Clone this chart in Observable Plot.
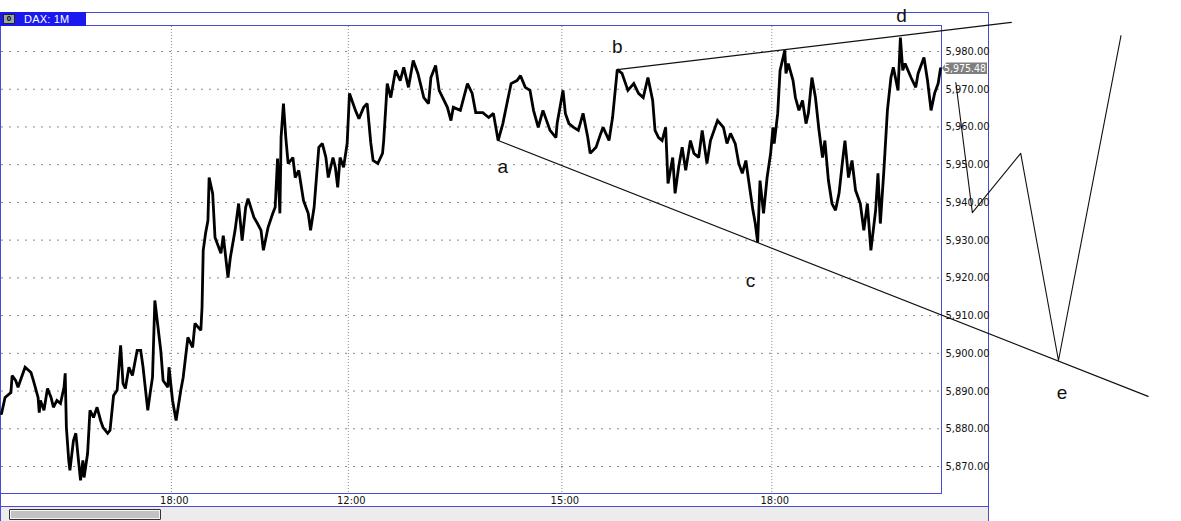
<!DOCTYPE html>
<html>
<head>
<meta charset="utf-8">
<script src="https://cdn.jsdelivr.net/npm/d3@7"></script>
<script src="https://cdn.jsdelivr.net/npm/@observablehq/plot@0.6"></script>
<style>
  html, body { margin: 0; padding: 0; background: #fff; }
  #chart { position: relative; width: 1181px; height: 521px; overflow: hidden; font-family: "Liberation Sans", Arial, sans-serif; }
  .box { position: absolute; box-sizing: border-box; }
  #outer { left: 0; top: 12px; width: 989px; height: 509px; border: 1px solid #4b4bd2; border-bottom: none; }
  #plotbox { left: 0; top: 25px; width: 942px; height: 469px; border: 1px solid #4b4bd2; }
  #scroll { left: 0; top: 506px; width: 989px; height: 15px; background: #ececec; border: 1px solid #4b4bd2; border-bottom: none; }
  #thumb { left: 9px; top: 509px; width: 152px; height: 11px; border: 1px solid #333; background: #c2c2c2; box-shadow: inset 0 0 0 1px #f4f4f4; border-radius: 1px; }
  #header { left: 0; top: 12px; width: 86px; height: 14px; background: #1a1af0; color: #fff; font-size: 11px; line-height: 14px; }
  #header .btn { position: absolute; left: 3px; top: 2px; width: 12px; height: 10px; box-sizing: border-box; background: #9aa6ac; border: 1px solid #222; color: #000; font-weight: bold; font-size: 8px; line-height: 8px; text-align: center; }
  #header .name { position: absolute; left: 24px; top: 0; letter-spacing: 0.2px; }
  #chart svg { position: absolute; left: 0; top: 0; }
</style>
</head>
<body>
<div id="chart">
  <div class="box" id="outer"></div>
  <div class="box" id="plotbox"></div>
  <div class="box" id="scroll"></div>
  <div class="box" id="thumb"></div>
  <div class="box" id="header"><div class="btn">0</div><div class="name">DAX: 1M</div></div>
</div>
<script>
// One-minute DAX closes, sampled along the session (bar index from the left edge)
const barIndex = [
  0, 3, 8, 9, 12, 14, 20, 25, 27, 31, 32, 33, 36, 39, 42, 44, 47, 50, 53, 54,
  55, 57, 58, 61, 63, 65, 67, 69, 70, 73, 75, 78, 81, 84, 86, 90, 92, 95, 98, 101,
  103, 105, 108, 111, 115, 118, 120, 124, 126, 128, 130, 132, 135, 137, 141, 142, 145, 148, 152, 154,
  158, 162, 164, 169, 170, 171, 173, 175, 176, 179, 181, 186, 188, 192, 194, 198, 201, 204, 207, 209,
  214, 217, 220, 222, 226, 230, 232, 234, 236, 237, 239, 241, 243, 247, 249, 252, 256, 260, 262, 265,
  269, 272, 275, 277, 281, 283, 285, 287, 290, 293, 295, 298, 300, 303, 307, 310, 313, 315, 319, 323,
  324, 327, 330, 334, 338, 341, 345, 349, 353, 358, 362, 364, 368, 371, 374, 378, 381, 383, 389, 395,
  399, 402, 408, 413, 417, 421, 425, 429, 432, 437, 440, 444, 448, 451, 455, 459, 465, 470, 471, 476,
  478, 481, 485, 489, 493, 497, 499, 504, 508, 510, 515, 518, 522, 526, 531, 536, 540, 544, 548, 552,
  554, 557, 560, 563, 565, 569, 571, 574, 577, 580, 584, 587, 591, 594, 598, 601, 607, 612, 615, 618,
  622, 625, 628, 631, 633, 637, 639, 641, 643, 646, 649, 652, 654, 655, 658, 660, 664, 665, 667, 671,
  673, 676, 679, 682, 684, 687, 690, 693, 696, 698, 701, 704, 707, 710, 713, 715, 718, 721, 724, 728,
  731, 734, 737, 741, 743, 745, 748, 751, 754, 756, 760, 762, 764, 766, 771, 775, 777, 782, 785, 788,
  791, 794, 796
];
const closePrice = [
  5884.0, 5888.3, 5889.6, 5894.1, 5892.8, 5891.0, 5896.3, 5894.9, 5892.8, 5888.3, 5884.3, 5887.5, 5884.9, 5890.7, 5888.3, 5885.7, 5887.5, 5886.7, 5891.0, 5894.7,
  5880.4, 5871.6, 5869.0, 5876.9, 5878.8, 5872.4, 5866.3, 5871.6, 5867.1, 5873.5, 5884.9, 5883.0, 5885.7, 5882.2, 5880.4, 5878.8, 5879.6, 5888.8, 5890.2, 5902.1,
  5892.0, 5890.7, 5896.3, 5894.1, 5900.8, 5900.8, 5896.3, 5884.9, 5889.4, 5893.6, 5914.0, 5908.7, 5900.8, 5892.8, 5891.0, 5896.3, 5887.5, 5882.2, 5890.2, 5893.6,
  5904.2, 5901.6, 5907.9, 5906.1, 5912.2, 5927.3, 5931.8, 5935.2, 5946.6, 5942.4, 5930.7, 5926.5, 5931.2, 5920.1, 5925.4, 5932.6, 5939.7, 5929.9, 5938.7, 5941.0,
  5936.0, 5934.4, 5932.6, 5927.3, 5933.4, 5937.1, 5938.7, 5951.6, 5937.1, 5957.2, 5966.2, 5957.2, 5950.3, 5951.9, 5946.6, 5948.5, 5940.5, 5937.1, 5932.6, 5938.7,
  5954.6, 5955.6, 5951.9, 5946.6, 5951.9, 5949.3, 5944.0, 5951.9, 5949.3, 5955.6, 5968.9, 5966.2, 5964.4, 5962.2, 5965.2, 5966.2, 5955.9, 5951.1, 5950.3, 5953.0,
  5956.4, 5971.5, 5967.8, 5975.0, 5972.3, 5975.8, 5970.5, 5977.6, 5974.2, 5967.8, 5966.2, 5973.1, 5976.3, 5969.7, 5967.8, 5965.2, 5961.7, 5965.2, 5964.4, 5971.5,
  5968.9, 5963.8, 5963.8, 5962.5, 5963.6, 5956.4, 5960.9, 5967.0, 5971.5, 5972.3, 5973.6, 5970.5, 5969.7, 5964.4, 5959.9, 5964.4, 5959.1, 5957.2, 5960.9, 5969.7,
  5963.6, 5960.9, 5959.9, 5959.1, 5963.6, 5957.2, 5953.0, 5954.6, 5958.3, 5959.9, 5956.4, 5962.5, 5975.2, 5974.2, 5969.7, 5971.5, 5968.9, 5967.8, 5973.1, 5967.0,
  5959.1, 5957.2, 5956.4, 5959.9, 5945.0, 5951.9, 5942.4, 5949.3, 5954.6, 5948.5, 5956.4, 5953.0, 5951.9, 5959.1, 5950.3, 5956.4, 5961.7, 5959.9, 5955.6, 5958.3,
  5955.6, 5950.3, 5947.7, 5951.1, 5946.6, 5937.9, 5934.4, 5929.4, 5945.8, 5937.1, 5946.6, 5953.0, 5959.9, 5955.6, 5963.6, 5975.0, 5980.3, 5974.2, 5976.8, 5972.3,
  5967.8, 5964.4, 5967.0, 5960.9, 5963.6, 5973.1, 5967.8, 5959.1, 5951.9, 5956.4, 5945.8, 5939.7, 5937.9, 5942.4, 5951.1, 5956.4, 5946.6, 5951.1, 5943.2, 5939.7,
  5932.6, 5939.7, 5927.3, 5937.9, 5947.7, 5934.4, 5948.5, 5964.4, 5973.1, 5975.8, 5969.7, 5983.7, 5975.0, 5976.8, 5973.1, 5970.5, 5974.2, 5978.4, 5972.3, 5964.4,
  5968.9, 5971.5, 5975.48
];

// Axis ticks
const priceTicks = [5870, 5880, 5890, 5900, 5910, 5920, 5930, 5940, 5950, 5960, 5970, 5980];
const timeTickIndex = [144, 294, 475, 653];
const timeTickLabel = ["18:00", "12:00", "15:00", "18:00"];

// Triangle boundaries: lower line from a through c, upper line from b through the 18:00 high
const lowerLineIndex = [421, 972];
const lowerLinePrice = [5956.4, 5888.6];
const upperLineIndex = [522, 856];
const upperLinePrice = [5975.2, 5987.7];

// Projected d-e swing and breakout
const pathIndex = [809, 823, 864, 896, 949];
const pathPrice = [5971.8, 5937.3, 5953.0, 5898.1, 5984.2];

// Wave labels
const waveLabel = ["a", "b", "c", "d", "e"];
const waveLabelIndex = [425, 522, 635, 763, 899];
const waveLabelPrice = [5949.3, 5981.3, 5919.3, 5989.5, 5889.4];

const series = barIndex.map((i, k) => ({i, p: closePrice[k]}));
const lowerLine = lowerLineIndex.map((i, k) => ({i, p: lowerLinePrice[k]}));
const upperLine = upperLineIndex.map((i, k) => ({i, p: upperLinePrice[k]}));
const projection = pathIndex.map((i, k) => ({i, p: pathPrice[k]}));
const waves = waveLabel.map((t, k) => ({t, i: waveLabelIndex[k], p: waveLabelPrice[k]}));
const timeLabelAt = new Map(timeTickIndex.map((t, k) => [t, timeTickLabel[k]]));
const fmtPrice = d3.format(",.2f");

const axisFont = '"Liberation Sans Narrow", "DejaVu Sans Condensed", sans-serif';

// Last-price marker on the right scale
function lastPriceTag(index, scales, values, dims) {
  const last = closePrice[closePrice.length - 1];
  const y = scales.y(last);
  const x0 = dims.width - dims.marginRight;
  const g = d3.create("svg:g");
  g.append("path")
    .attr("d", `M${x0 + 2},${y} l4.5,-5.5 h40.5 v11.5 h-40.5 z`)
    .attr("fill", "#7f7f7f");
  g.append("text")
    .attr("x", x0 + 46)
    .attr("y", y)
    .attr("dy", "0.36em")
    .attr("text-anchor", "end")
    .attr("fill", "#fff")
    .attr("font-family", axisFont)
    .attr("font-size", 10.5)
    .text(fmtPrice(last));
  return g.node();
}

const chart = Plot.plot({
  width: 1181,
  height: 521,
  marginLeft: 1,
  marginRight: 241,
  marginTop: 26,
  marginBottom: 28,
  style: {background: "transparent", overflow: "visible", fontFamily: axisFont, fontSize: "11px"},
  x: {domain: [0, 796], axis: null},
  y: {domain: [5862.84, 5986.63], axis: null},
  marks: [
    Plot.gridY(priceTicks, {stroke: "#8a8a8a", strokeOpacity: 1, strokeDasharray: "2,6"}),
    Plot.gridX(timeTickIndex, {stroke: "#8a8a8a", strokeOpacity: 1, strokeDasharray: "1,2"}),
    Plot.axisY(priceTicks, {anchor: "right", label: null, tickSize: 0, tickPadding: 5, tickFormat: fmtPrice, fill: "#111", stroke: "#111", strokeWidth: 0.25}),
    Plot.axisX(timeTickIndex, {anchor: "bottom", label: null, tickSize: 0, tickPadding: 3, dx: 3, tickFormat: d => timeLabelAt.get(d), fill: "#111", stroke: "#111", strokeWidth: 0.25}),
    Plot.line(lowerLine, {x: "i", y: "p", stroke: "#111", strokeWidth: 1.2}),
    Plot.line(upperLine, {x: "i", y: "p", stroke: "#111", strokeWidth: 1.2}),
    Plot.line(projection, {x: "i", y: "p", stroke: "#111", strokeWidth: 1.1}),
    Plot.line(series, {x: "i", y: "p", stroke: "#000", strokeWidth: 2.8, strokeLinejoin: "miter", strokeMiterlimit: 2}),
    Plot.text(waves, {x: "i", y: "p", text: "t", fontSize: 19, fontFamily: '"Liberation Sans", Arial, sans-serif', fill: "#111"}),
    lastPriceTag
  ]
});

document.getElementById("chart").appendChild(chart);
</script>
</body>
</html>
